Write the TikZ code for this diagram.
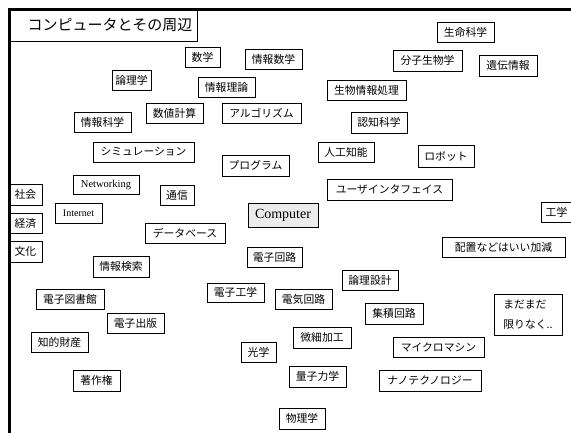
\documentclass[tikz,border=0pt]{standalone}
\usepackage{fontspec}
\setmainfont{Liberation Serif}
\newfontfamily\jp{Noto Sans CJK JP}
\tikzset{
  box/.style={draw=black, line width=0.9pt, inner sep=0pt, font=\jp\fontsize{10.8}{12}\selectfont, text=black},
  frame/.style={line width=2.6pt, black},
}
\newcommand{\bx}[6]{\node[box, minimum width={(#4-#2)*1pt}, minimum height={(#5-#3)*1pt}] (#1) at ({(#2+#4)/2},{(#3+#5)/2}) {#6};}
\begin{document}
\begin{tikzpicture}[x=1pt,y=-1pt]
\useasboundingbox (0,0) rectangle (571,432);
\fill[white] (0,0) rectangle (571,432);
% frame
\draw[frame] (9.5,445) -- (9.5,9.5) -- (590,9.5);
% title
\node[box, minimum width=188pt, minimum height=32pt, font=\jp\fontsize{15}{17}\selectfont] (title) at (103,25) {\hspace*{14pt}コンピュータとその周辺};
\bx{sugaku}{185}{47}{220}{67}{数学}
\bx{johosugaku}{245}{49}{302}{69}{情報数学}
\bx{ronrigaku}{112}{70}{151}{90}{論理学}
\bx{johoriron}{198}{77}{255}{97}{情報理論}
\bx{suchi}{146}{103}{203}{123}{数値計算}
\bx{algo}{222}{103}{301}{123}{アルゴリズム}
\bx{johokagaku}{74}{112}{131}{132}{情報科学}
\bx{seimei}{437}{22}{494}{42}{生命科学}
\bx{bunshi}{393}{50}{462}{71}{分子生物学}
\bx{iden}{479}{55}{537}{76}{遺伝情報}
\bx{seibutsu}{327}{80}{406}{100}{生物情報処理}
\bx{ninchi}{351}{112}{407}{133}{認知科学}
\bx{sim}{93}{142}{194}{162}{シミュレーション}
\bx{ai}{318}{142}{374}{162}{人工知能}
\bx{prog}{222}{155}{289}{176}{プログラム}
\bx{robot}{418}{145}{474}{167}{ロボット}
\bx{net}{73}{175}{139}{194}{\rmfamily\fontsize{10.5}{12}\selectfont Networking}
\bx{tsushin}{160}{185}{194}{205}{通信}
\bx{ui}{327}{179}{452}{200}{ユーザインタフェイス}
\bx{shakai}{9}{184}{42}{205}{社会}
\bx{internet}{55}{203}{102}{223}{\rmfamily\fontsize{10}{12}\selectfont Internet}
\node[box, fill=black!8, minimum width=70pt, minimum height=24pt, font=\fontsize{14}{16}\selectfont] (computer) at (283,215) {Computer};
\bx{kogaku}{541}{202}{580}{222}{\hspace*{-8pt}工学}
\bx{keizai}{9}{213}{42}{233}{経済}
\bx{db}{145}{223}{225}{243}{データベース}
\bx{haichi}{442}{237}{565}{257}{配置などはいい加減}
\bx{bunka}{9}{241}{42}{262}{文化}
\bx{denshikairo}{247}{247}{302}{267}{電子回路}
\bx{kensaku}{93}{256}{149}{277}{情報検索}
\bx{ronrisekkei}{342}{270}{398}{290}{論理設計}
\bx{denshikogaku}{207}{283}{264}{302}{電子工学}
\bx{denki}{275}{289}{332}{309}{電気回路}
\bx{toshokan}{36}{289}{104}{309}{電子図書館}
\bx{shuseki}{365}{303}{423}{324}{集積回路}
\node[box, minimum width=68pt, minimum height=41pt, align=left, font=\jp\fontsize{10.8}{20}\selectfont] (madamada) at (528,314.5) {まだまだ\\限りなく..};
\bx{shuppan}{107}{313}{164}{333}{電子出版}
\bx{chiteki}{31}{332}{88}{352}{知的財産}
\bx{bisai}{293}{327}{351}{348}{微細加工}
\bx{micro}{393}{337}{484}{357}{マイクロマシン}
\bx{kogaku2}{241}{342}{276}{362}{光学}
\bx{ryoshi}{289}{366}{346}{387}{量子力学}
\bx{nano}{379}{370}{481}{391}{ナノテクノロジー}
\bx{chosaku}{73}{370}{120}{391}{著作権}
\bx{butsuri}{279}{408}{325}{429}{物理学}
\end{tikzpicture}
\end{document}
